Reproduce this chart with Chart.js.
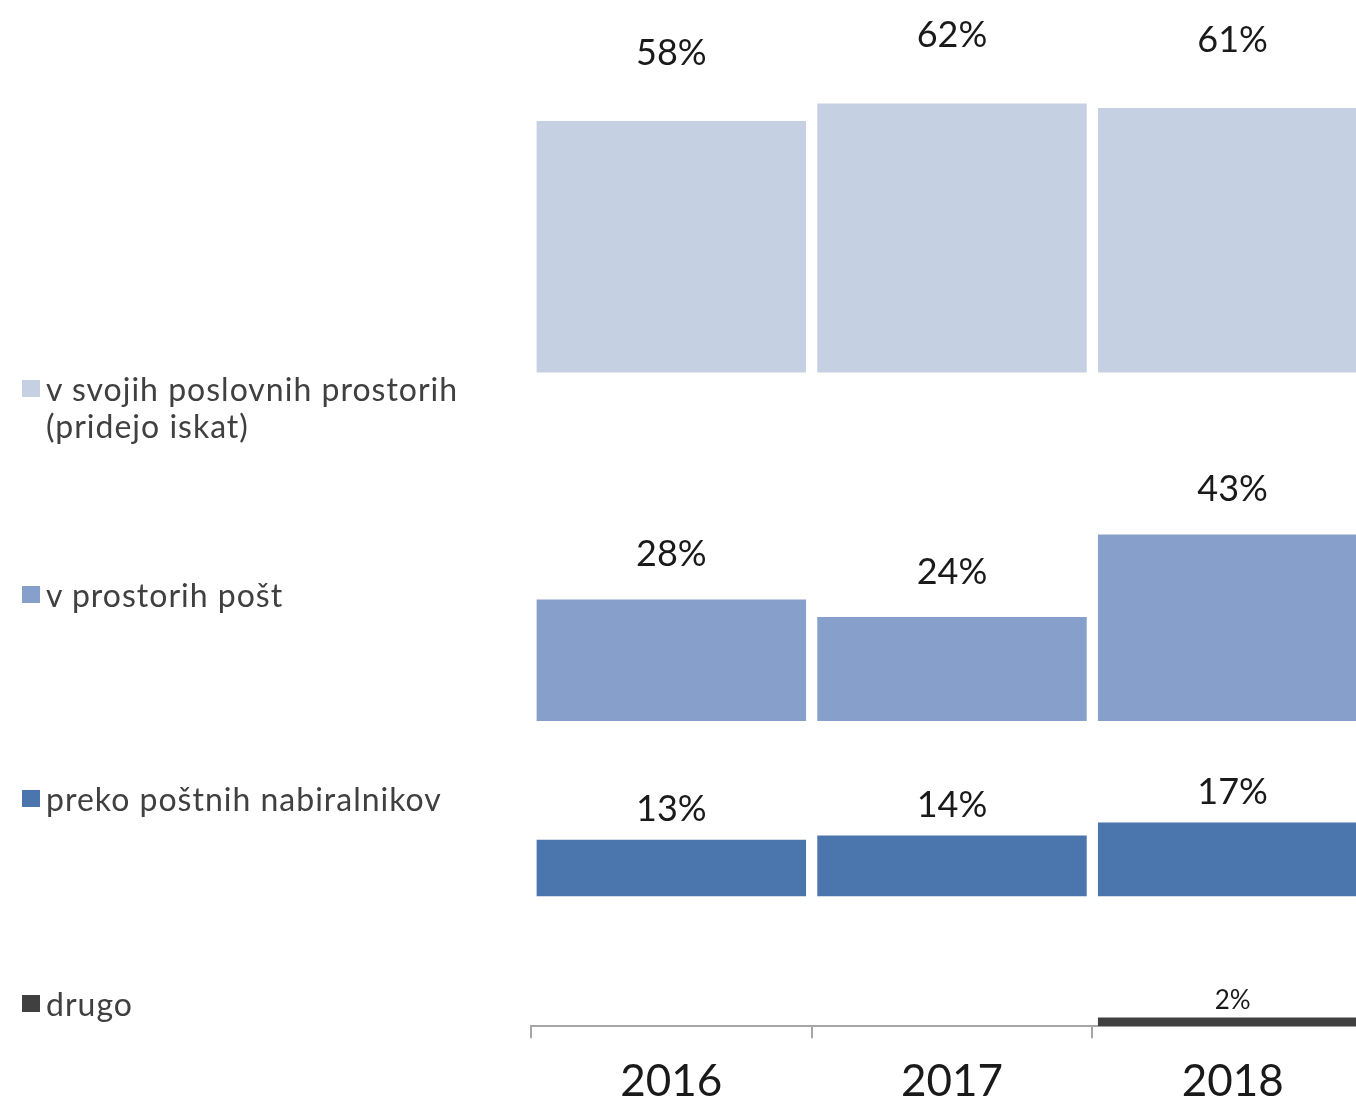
<!DOCTYPE html>
<html>
<head>
<meta charset="utf-8">
<script src="https://cdn.jsdelivr.net/npm/chart.js@4"></script>
<style>
  html, body { margin: 0; padding: 0; background: #fff; overflow: hidden; }
  #chart { position: absolute; left: 0; top: 0; }
  #legend { position: absolute; left: 0; top: 0; font-family: Lato, "Noto Sans", sans-serif; color: #404040; }
  .item { position: absolute; left: 22px; width: 460px; font-size: 32px; line-height: 37px; letter-spacing: 1px; white-space: pre-line; }
  .item i { position: absolute; left: 0; top: 10px; width: 18px; height: 17px; }
  .item span { display: block; margin-left: 24px; }
</style>
</head>
<body>
<canvas id="chart" width="1373" height="1125"></canvas>
<div id="legend"></div>
<script>
  const years = ["2016", "2017", "2018"];
  const seriesNames = [
    "v svojih poslovnih prostorih\n(pridejo iskat)",
    "v prostorih pošt",
    "preko poštnih nabiralnikov",
    "drugo"
  ];
  const svojih = [58, 62, 61];
  const poste = [28, 24, 43];
  const nabiralniki = [13, 14, 17];
  const drugo = [0, 0, 2];
  const colors = ["#C5D0E2", "#86A0CB", "#4A76AD", "#404040"];

  // each row sits on its own baseline (in % units of the y scale)
  const rowBase = [150.8, 70.4, 30, 0];
  const labelGap = [68, 45, 30, 17];
  const legendTop = [370, 576, 780, 985];

  const values = [svojih, poste, nabiralniki, drugo];

  const datasets = values.map((vals, i) => ({
    label: seriesNames[i],
    data: vals.map((v) => [rowBase[i], rowBase[i] + v]),
    backgroundColor: colors[i],
    barPercentage: 0.96,
    categoryPercentage: 1,
    grouped: false
  }));

  // percentage labels above each bar
  const valueLabels = {
    id: "valueLabels",
    afterDatasetsDraw(chart) {
      const ctx = chart.ctx;
      ctx.save();
      ctx.textAlign = "center";
      ctx.textBaseline = "middle";
      ctx.fillStyle = "#1a1a1a";
      chart.data.datasets.forEach((ds, i) => {
        const meta = chart.getDatasetMeta(i);
        ctx.font = (i === 3 ? "26px" : "36px") + " Lato, 'Noto Sans', sans-serif";
        meta.data.forEach((bar, j) => {
          const v = values[i][j];
          if (!v) return;
          ctx.fillText(v + "%", bar.x, bar.y - labelGap[i]);
        });
      });
      ctx.restore();
    }
  };

  const chart = new Chart(document.getElementById("chart"), {
    type: "bar",
    data: { labels: years, datasets: datasets },
    options: {
      responsive: false,
      animation: false,
      layout: { padding: { left: 531, top: 0, right: 0, bottom: 0 } },
      plugins: { legend: { display: false }, tooltip: { enabled: false } },
      scales: {
        x: {
          grid: { display: true, drawOnChartArea: false, tickLength: 12, color: "#A6A6A6", lineWidth: 2 },
          border: { display: true, color: "#A6A6A6", width: 2 },
          ticks: { color: "#1a1a1a", padding: 17, font: { family: "Lato, 'Noto Sans', sans-serif", size: 44, lineHeight: 1.2 } }
        },
        y: { display: false, min: 0, max: 236.7 }
      }
    },
    plugins: [valueLabels]
  });

  // legend on the left, one entry per row
  const legend = document.getElementById("legend");
  chart.data.datasets.forEach((ds, i) => {
    const item = document.createElement("div");
    item.className = "item";
    item.style.top = legendTop[i] + "px";
    item.innerHTML = `<i style="background:${ds.backgroundColor}"></i><span></span>`;
    item.querySelector("span").textContent = ds.label;
    legend.appendChild(item);
  });
</script>
</body>
</html>
